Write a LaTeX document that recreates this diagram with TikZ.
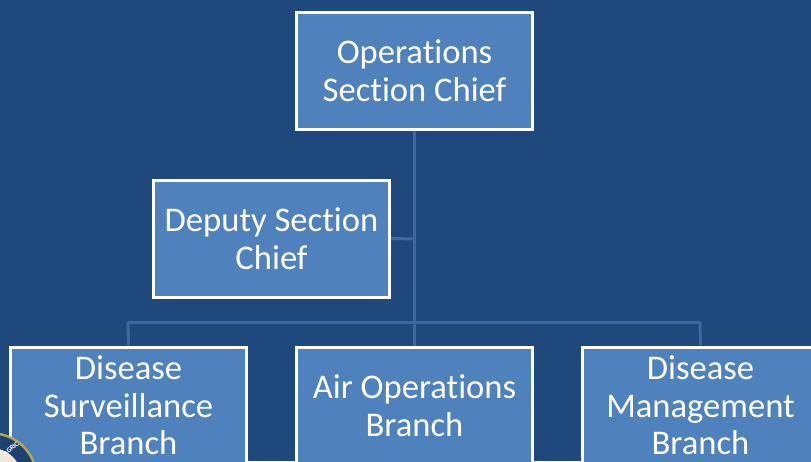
\documentclass[tikz,border=0pt]{standalone}
\usepackage{fontspec}
\setmainfont[Ligatures=NoCommon]{Carlito}
\definecolor{bg}{HTML}{1F497D}
\definecolor{boxfill}{HTML}{4F81BD}
\definecolor{conn}{HTML}{3E6A9B}
\definecolor{sealgold}{HTML}{B9A94E}
\definecolor{sealblue}{HTML}{1E4270}
\definecolor{sealin}{HTML}{EFE9DC}
\tikzset{
  orgbox/.style={draw=white,line width=3pt,fill=boxfill,text=white,minimum width=236pt,minimum height=117pt,
    inner sep=0pt,align=center,font=\fontsize{34.6}{37.6}\selectfont,anchor=center},
  orgline/.style={draw=conn,line width=3pt}
}
\begin{document}
\begin{tikzpicture}[x=1pt,y=-1pt]
\useasboundingbox (0,0) rectangle (811,461);
\clip (0,0) rectangle (811,461);
\fill[bg] (0,0) rectangle (811,461);
\coordinate (j1) at (414,239);
\coordinate (jl) at (128,322);
\coordinate (jr) at (700,322);
\node[orgbox] (ops) at (414.5,70.5) {Operations\\Section Chief};
\node[orgbox] (dep) at (271.5,238.5) {Deputy Section\\Chief};
\node[orgbox] (sur) at (128.5,405.5) {Disease\\Surveillance\\Branch};
\node[orgbox] (air) at (414.5,405.5) {Air Operations\\Branch};
\node[orgbox] (mgt) at (700.5,405.5) {Disease\\Management\\Branch};
\draw[orgline] (ops.south) -- (air.north);
\draw[orgline] (dep.east) -- (j1);
\draw[orgline] (jl) -- (jr);
\draw[orgline] (jl) -- (sur.north);
\draw[orgline] (jr) -- (mgt.north);
% seal
\fill[sealgold] (-9,479) circle (47);
\fill[sealblue] (-9,479) circle (44.5);
\fill[sealin] (-9,479) circle (31);
\node[text=white,font=\bfseries\fontsize{7}{8}\selectfont,rotate=42,inner sep=0pt] (sealtext) at (11,449) {AGRIC};
\end{tikzpicture}
\end{document}
